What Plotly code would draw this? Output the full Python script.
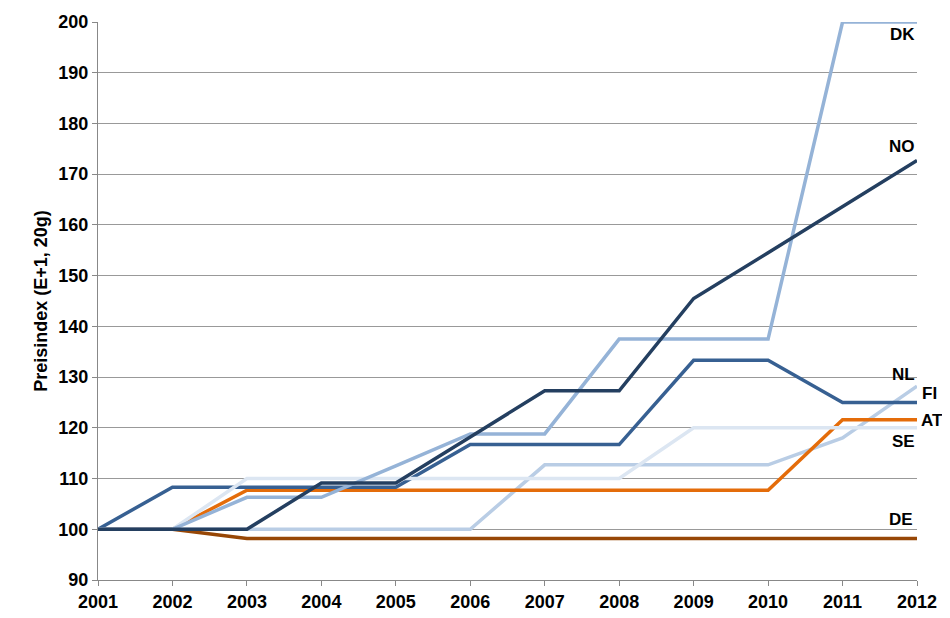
import plotly.graph_objects as go

years = list(range(2001, 2013))
dk = [100, 100, 106.3, 106.3, 112.5, 118.8, 118.8, 137.5, 137.5, 137.5, 200, 200]
no = [100, 100, 100, 109.1, 109.1, 118.2, 127.3, 127.3, 145.5, 154.5, 163.6, 172.7]
fi = [100, 108.3, 108.3, 108.3, 108.3, 116.7, 116.7, 116.7, 133.3, 133.3, 125, 125]
nl = [100, 100, 100, 100, 100, 100, 112.7, 112.7, 112.7, 112.7, 118, 128.2]
at = [100, 100, 107.7, 107.7, 107.7, 107.7, 107.7, 107.7, 107.7, 107.7, 121.6, 121.6]
se = [100, 100, 110, 110, 110, 110, 110, 110, 120, 120, 120, 120]
de = [100, 100, 98.2, 98.2, 98.2, 98.2, 98.2, 98.2, 98.2, 98.2, 98.2, 98.2]

series = [
    ("DE", de, "#974706"),
    ("NL", nl, "#b9cde5"),
    ("AT", at, "#e46c0a"),
    ("FI", fi, "#376092"),
    ("SE", se, "#dce6f2"),
    ("DK", dk, "#95b3d7"),
    ("NO", no, "#243f60"),
]

fig = go.Figure()
for name, vals, col in series:
    fig.add_trace(go.Scatter(x=years, y=vals, mode="lines", name=name,
                             line=dict(color=col, width=3.5)))

# label positions: (y value, x shift, xanchor)
labels = [("DK", 197.5, 0, "right"), ("NO", 175.5, 0, "right"),
          ("NL", 130.5, 0, "right"), ("FI", 126.7, 3, "left"),
          ("AT", 121.5, 2, "left"), ("SE", 117.3, 0, "right"),
          ("DE", 102, -2, "right")]
for txt, yv, xs, xa in labels:
    fig.add_annotation(x=2012, y=yv, text="<b>" + txt + "</b>", showarrow=False,
                       xanchor=xa, xshift=xs,
                       font=dict(size=17, color="black"))

tick_font = dict(size=18, family="Liberation Sans, Arial", weight="bold")
fig.update_layout(
    width=942, height=610, showlegend=False,
    plot_bgcolor="white", paper_bgcolor="white",
    margin=dict(l=90, r=33, t=14, b=38, autoexpand=False),
    font=dict(family="Liberation Sans, Arial", size=16, color="black"),
)
fig.update_xaxes(range=[2001, 2012], dtick=1, showgrid=False, showline=True,
                 linecolor="#888", ticks="outside", ticklen=5, tickcolor="#888",
                 tickfont=tick_font, zeroline=False, automargin=False)
fig.update_yaxes(range=[90, 200], dtick=10, showgrid=True, gridcolor="#999",
                 showline=True, linecolor="#888", ticks="outside", ticklen=5,
                 tickcolor="#888", tickfont=tick_font, automargin=False,
                 title=dict(text="<b>Preisindex (E+1, 20g)</b>", font=dict(size=18),
                            standoff=6),
                 zeroline=False)
fig.write_html("out.html")
